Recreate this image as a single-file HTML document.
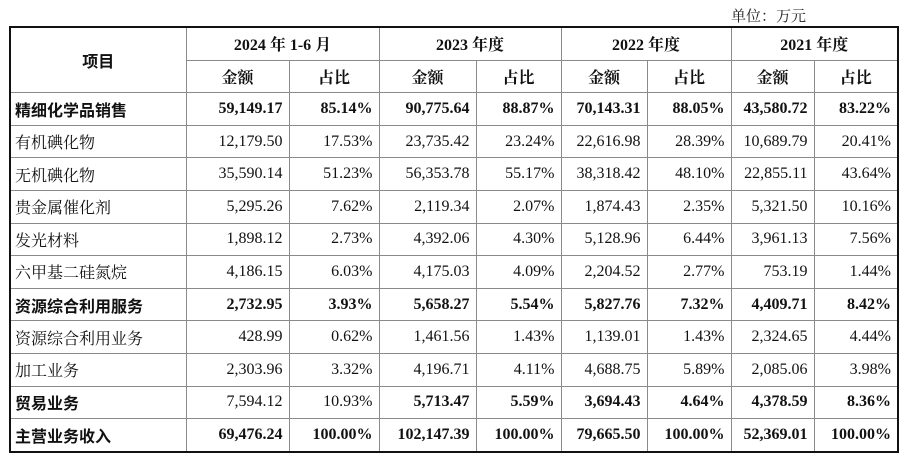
<!DOCTYPE html>
<html><head><meta charset="utf-8">
<style>
body{margin:0;background:#fff;width:907px;height:460px;overflow:hidden;position:relative;font-family:"Liberation Serif","Noto Serif CJK SC",serif;color:#111}
.unit{position:absolute;left:731px;top:5px;font-size:15px;color:#222}
table{position:absolute;left:9px;top:26px;border-collapse:collapse;table-layout:fixed;border:2.5px solid #111}
td{border:1px solid #8a8a8a;height:31.6px;padding:0 6px;font-size:16px;white-space:nowrap;overflow:hidden}
td.n{text-align:right}
td.c{text-align:center;font-weight:bold}
td.l{text-align:left;padding-left:4px}
tr.b td{font-weight:bold}
tr.b td.l{font-family:"Liberation Sans","Noto Sans CJK SC",sans-serif}
td.nb{font-weight:normal!important}
</style></head><body>
<div class="unit">单位：万元</div>
<table>
<colgroup><col style="width:176px"><col style="width:103px"><col style="width:90px"><col style="width:97px"><col style="width:85px"><col style="width:86px"><col style="width:84px"><col style="width:83px"><col style="width:84px"></colgroup>
<tr><td class="c" rowspan="2" style="font-family:'Liberation Sans','Noto Sans CJK SC',sans-serif">项目</td><td class="c" colspan="2">2024 年 1-6 月</td><td class="c" colspan="2">2023 年度</td><td class="c" colspan="2">2022 年度</td><td class="c" colspan="2">2021 年度</td></tr>
<tr><td class="c">金额</td><td class="c">占比</td><td class="c">金额</td><td class="c">占比</td><td class="c">金额</td><td class="c">占比</td><td class="c">金额</td><td class="c">占比</td></tr>
<tr class="b"><td class="l">精细化学品销售</td><td class="n">59,149.17</td><td class="n">85.14%</td><td class="n">90,775.64</td><td class="n">88.87%</td><td class="n">70,143.31</td><td class="n">88.05%</td><td class="n">43,580.72</td><td class="n">83.22%</td></tr>
<tr><td class="l">有机碘化物</td><td class="n">12,179.50</td><td class="n">17.53%</td><td class="n">23,735.42</td><td class="n">23.24%</td><td class="n">22,616.98</td><td class="n">28.39%</td><td class="n">10,689.79</td><td class="n">20.41%</td></tr>
<tr><td class="l">无机碘化物</td><td class="n">35,590.14</td><td class="n">51.23%</td><td class="n">56,353.78</td><td class="n">55.17%</td><td class="n">38,318.42</td><td class="n">48.10%</td><td class="n">22,855.11</td><td class="n">43.64%</td></tr>
<tr><td class="l">贵金属催化剂</td><td class="n">5,295.26</td><td class="n">7.62%</td><td class="n">2,119.34</td><td class="n">2.07%</td><td class="n">1,874.43</td><td class="n">2.35%</td><td class="n">5,321.50</td><td class="n">10.16%</td></tr>
<tr><td class="l">发光材料</td><td class="n">1,898.12</td><td class="n">2.73%</td><td class="n">4,392.06</td><td class="n">4.30%</td><td class="n">5,128.96</td><td class="n">6.44%</td><td class="n">3,961.13</td><td class="n">7.56%</td></tr>
<tr><td class="l">六甲基二硅氮烷</td><td class="n">4,186.15</td><td class="n">6.03%</td><td class="n">4,175.03</td><td class="n">4.09%</td><td class="n">2,204.52</td><td class="n">2.77%</td><td class="n">753.19</td><td class="n">1.44%</td></tr>
<tr class="b"><td class="l">资源综合利用服务</td><td class="n">2,732.95</td><td class="n">3.93%</td><td class="n">5,658.27</td><td class="n">5.54%</td><td class="n">5,827.76</td><td class="n">7.32%</td><td class="n">4,409.71</td><td class="n">8.42%</td></tr>
<tr><td class="l">资源综合利用业务</td><td class="n">428.99</td><td class="n">0.62%</td><td class="n">1,461.56</td><td class="n">1.43%</td><td class="n">1,139.01</td><td class="n">1.43%</td><td class="n">2,324.65</td><td class="n">4.44%</td></tr>
<tr><td class="l">加工业务</td><td class="n">2,303.96</td><td class="n">3.32%</td><td class="n">4,196.71</td><td class="n">4.11%</td><td class="n">4,688.75</td><td class="n">5.89%</td><td class="n">2,085.06</td><td class="n">3.98%</td></tr>
<tr class="b"><td class="l">贸易业务</td><td class="n nb">7,594.12</td><td class="n nb">10.93%</td><td class="n">5,713.47</td><td class="n">5.59%</td><td class="n">3,694.43</td><td class="n">4.64%</td><td class="n">4,378.59</td><td class="n">8.36%</td></tr>
<tr class="b"><td class="l">主营业务收入</td><td class="n">69,476.24</td><td class="n">100.00%</td><td class="n">102,147.39</td><td class="n">100.00%</td><td class="n">79,665.50</td><td class="n">100.00%</td><td class="n">52,369.01</td><td class="n">100.00%</td></tr>
</table>
</body></html>
